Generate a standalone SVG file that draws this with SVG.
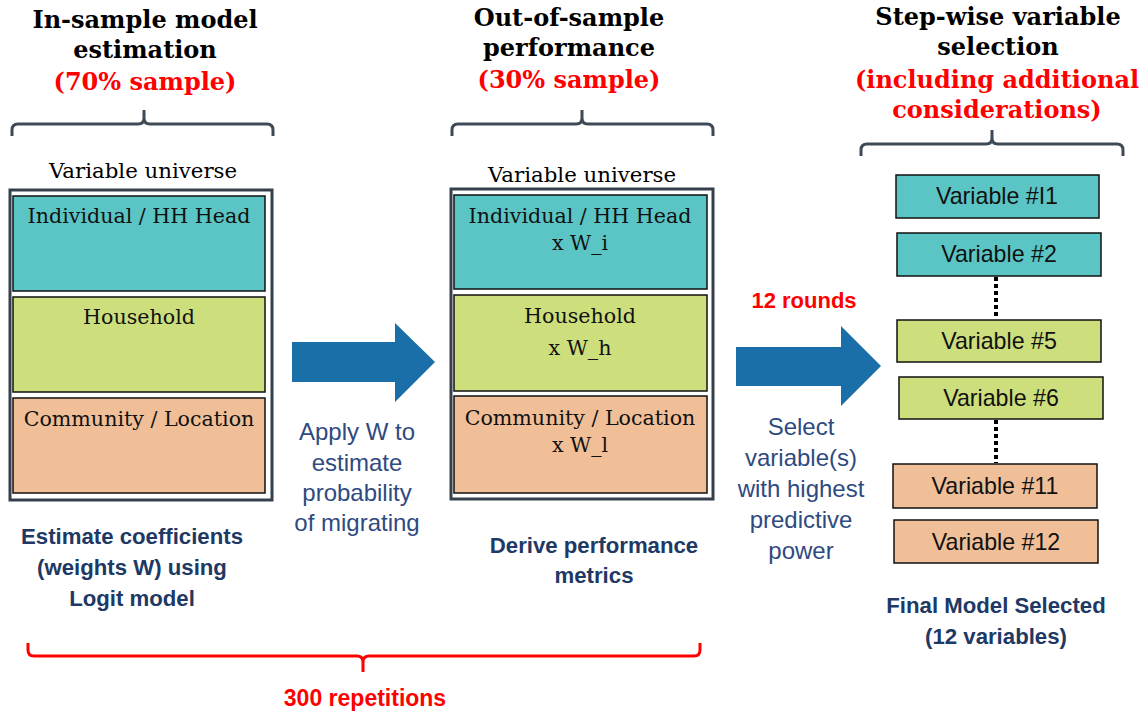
<svg xmlns="http://www.w3.org/2000/svg" width="1142" height="713" viewBox="0 0 1142 713">
<style>
.title{font-family:"DejaVu Serif","Liberation Serif",serif;font-weight:bold;font-size:24px;text-anchor:middle;fill:#000}
.red{fill:#FF0000}
.uni{font-family:"DejaVu Serif","Liberation Serif",serif;font-size:21.3px;text-anchor:middle;fill:#000}
.cat{font-family:"DejaVu Serif","Liberation Serif",serif;font-size:20.6px;text-anchor:middle;fill:#111}
.lab{font-family:"Liberation Sans","Open Sans",sans-serif;font-size:24px;text-anchor:middle;fill:#2F4A7F}
.blab{font-family:"Liberation Sans","Open Sans",sans-serif;font-size:22.2px;font-weight:bold;text-anchor:middle;fill:#203864}
.rlab{font-family:"Liberation Sans","Open Sans",sans-serif;font-weight:bold;text-anchor:middle;fill:#FF0000}
.var{font-family:"Liberation Sans","Open Sans",sans-serif;font-size:23.2px;text-anchor:middle;fill:#111}
.outer{fill:#fff;stroke:#36404C;stroke-width:3}
.in{stroke:#111;stroke-width:1.5}
.teal{fill:#5AC5C4}
.green{fill:#CDDE7C}
.orange{fill:#F0BF98}
.brace{fill:none;stroke:#3E4A56;stroke-width:3}
.rbrace{fill:none;stroke:#FF0000;stroke-width:3}
.arrow{fill:#1B6FA8}
.dots{stroke:#000;stroke-width:4;stroke-dasharray:4,3}
</style>

<g id="titles">
<text class="title" x="145" y="28">In-sample model</text>
<text class="title" x="145" y="58">estimation</text>
<text class="title red" x="145" y="90">(70% sample)</text>
<text class="title" x="569" y="26">Out-of-sample</text>
<text class="title" x="569" y="56">performance</text>
<text class="title red" x="569" y="88">(30% sample)</text>
<text class="title" x="998" y="25">Step-wise variable</text>
<text class="title" x="998" y="55">selection</text>
<text class="title red" x="997" y="88">(including additional</text>
<text class="title red" x="997" y="118">considerations)</text>
</g>

<g id="braces">
<path class="brace" d="M12,136 L12,130 Q12,124 18,124 L138,124 Q144,124 144,118 L144,110 M144,118 Q144,124 150,124 L267,124 Q273,124 273,130 L273,136"/>
<path class="brace" d="M452,136 L452,130 Q452,124 458,124 L576,124 Q582,124 582,118 L582,110 M582,118 Q582,124 588,124 L707,124 Q713,124 713,130 L713,136"/>
<path class="brace" d="M861,156 L861,150 Q861,144 867,144 L986,144 Q992,144 992,138 L992,130 M992,138 Q992,144 998,144 L1117,144 Q1123,144 1123,150 L1123,156"/>
<path class="rbrace" d="M28,643 L28,650 Q28,656 34,656 L357,656 Q363,656 363,662 L363,672 M363,662 Q363,656 369,656 L694,656 Q700,656 700,650 L700,643"/>
</g>

<g id="insample">
<text class="uni" x="143" y="178">Variable universe</text>
<rect class="outer" x="10" y="190" width="262" height="310"/>
<rect class="in teal" x="13" y="196" width="252" height="95"/>
<rect class="in green" x="13" y="297" width="252" height="95"/>
<rect class="in orange" x="13" y="398" width="252" height="95"/>
<text class="cat" x="139" y="223">Individual / HH Head</text>
<text class="cat" x="139" y="324">Household</text>
<text class="cat" x="139" y="426">Community / Location</text>
</g>

<g id="outsample">
<text class="uni" x="582" y="182">Variable universe</text>
<rect class="outer" x="451" y="189" width="262" height="310"/>
<rect class="in teal" x="454" y="195" width="253" height="94"/>
<rect class="in green" x="454" y="295" width="253" height="96"/>
<rect class="in orange" x="454" y="396" width="253" height="97"/>
<text class="cat" x="580" y="223">Individual / HH Head</text>
<text class="cat" x="580" y="250">x W_i</text>
<text class="cat" x="580" y="323">Household</text>
<text class="cat" x="580" y="355">x W_h</text>
<text class="cat" x="580" y="425">Community / Location</text>
<text class="cat" x="580" y="452">x W_l</text>
</g>

<g id="variables">
<rect class="in teal" x="896" y="175" width="203" height="43"/>
<text class="var" x="997" y="204">Variable #I1</text>
<rect class="in teal" x="897" y="233" width="204" height="43"/>
<text class="var" x="999" y="262">Variable #2</text>
<rect class="in green" x="897" y="320" width="204" height="42"/>
<text class="var" x="999" y="349">Variable #5</text>
<rect class="in green" x="899" y="377" width="204" height="42"/>
<text class="var" x="1001" y="406">Variable #6</text>
<rect class="in orange" x="893" y="464" width="204" height="44"/>
<text class="var" x="995" y="494">Variable #11</text>
<rect class="in orange" x="894" y="520" width="204" height="43"/>
<text class="var" x="996" y="550">Variable #12</text>
</g>

<g id="connectors">
<polygon class="arrow" points="292,342 395,342 395,323 435,362 395,402 395,382 292,382"/>
<polygon class="arrow" points="736,347 841,347 841,326 881,366 841,406 841,386 736,386"/>
<line class="dots" x1="996" y1="277" x2="996" y2="319"/>
<line class="dots" x1="996" y1="420" x2="996" y2="463"/>
</g>

<g id="labels">
<text class="lab" x="357" y="440">Apply W to</text>
<text class="lab" x="357" y="471">estimate</text>
<text class="lab" x="357" y="501">probability</text>
<text class="lab" x="357" y="531">of migrating</text>
<text class="blab" x="132" y="544">Estimate coefficients</text>
<text class="blab" x="132" y="575">(weights W) using</text>
<text class="blab" x="132" y="606">Logit model</text>
<text class="blab" x="594" y="553">Derive performance</text>
<text class="blab" x="594" y="583">metrics</text>
<text class="rlab" x="804" y="308" font-size="22px">12 rounds</text>
<text class="lab" x="801" y="435">Select</text>
<text class="lab" x="801" y="466">variable(s)</text>
<text class="lab" x="801" y="497">with highest</text>
<text class="lab" x="801" y="528">predictive</text>
<text class="lab" x="801" y="559">power</text>
<text class="blab" x="996" y="613">Final Model Selected</text>
<text class="blab" x="996" y="644">(12 variables)</text>
<text class="rlab" x="365" y="706" font-size="23px">300 repetitions</text>
</g>
</svg>
